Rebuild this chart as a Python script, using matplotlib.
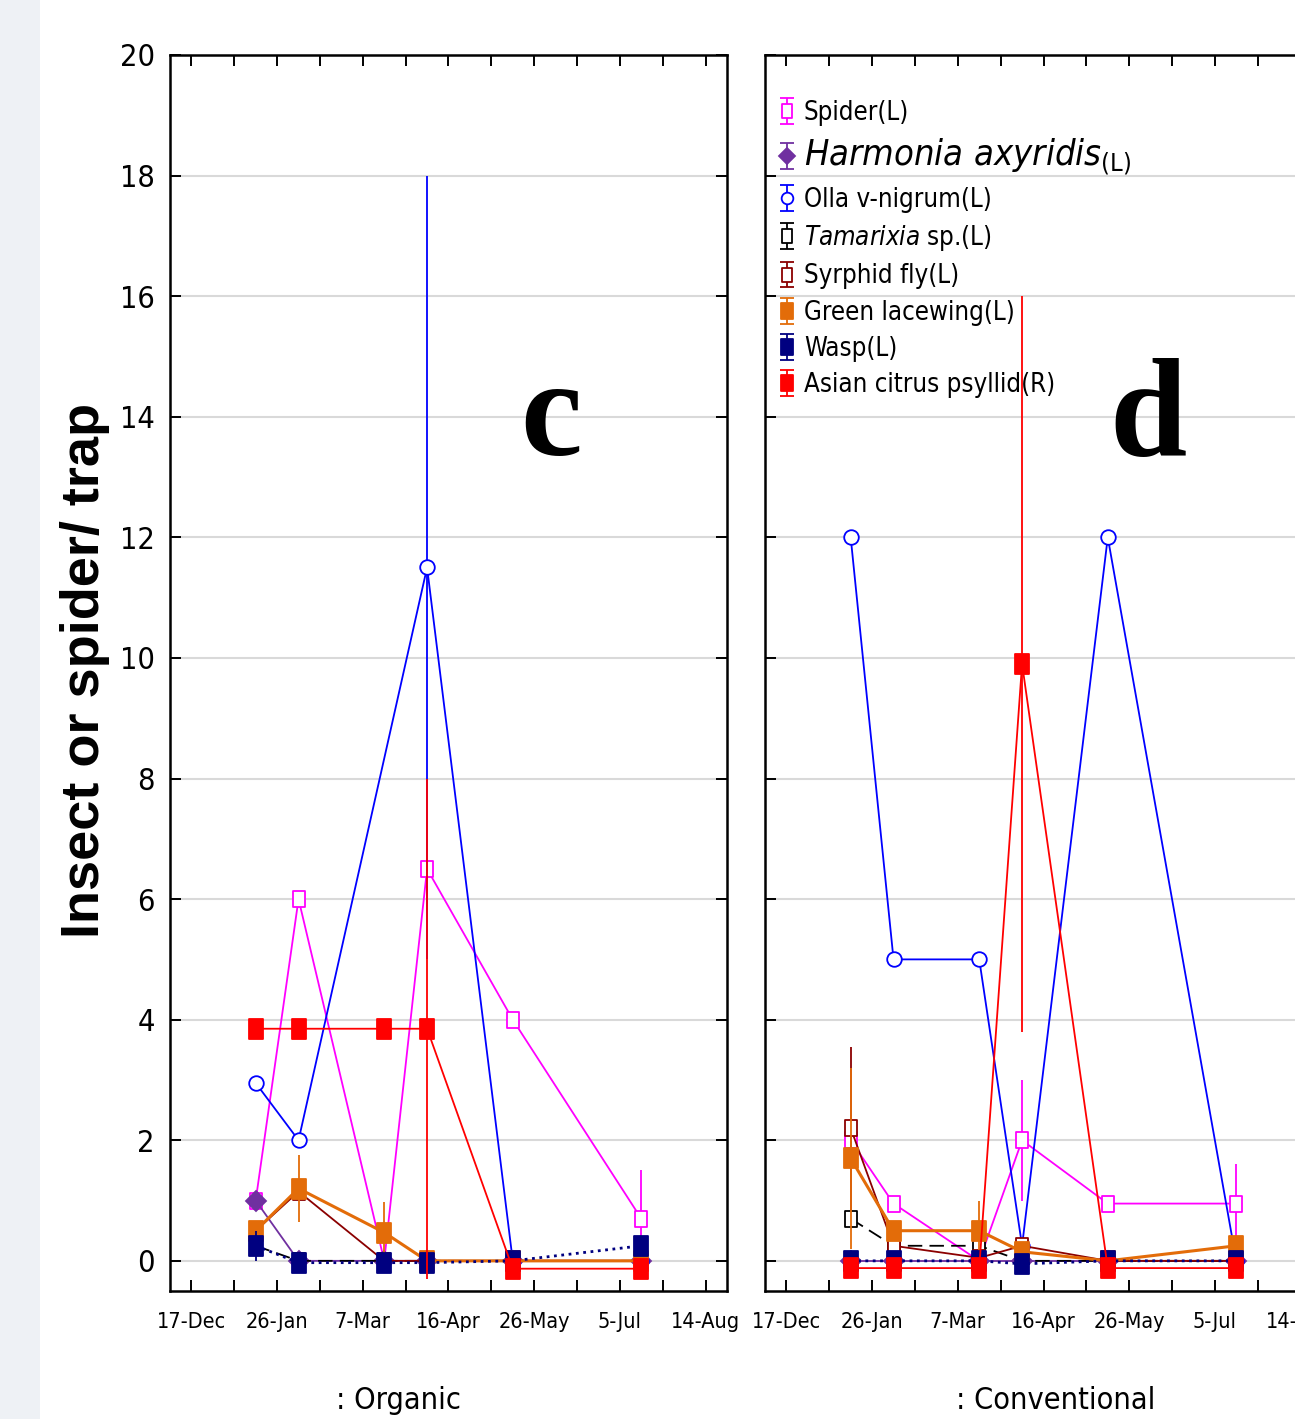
import numpy as np
import matplotlib.pyplot as plt
from matplotlib.path import Path
from matplotlib.patches import Rectangle

plt.rcParams['font.family'] = ['DejaVu Sans']
plt.rcParams['font.stretch'] = 'condensed'
plt.rcParams['mathtext.fontset'] = 'custom'
plt.rcParams['mathtext.rm'] = 'DejaVu Sans:stretch=condensed'
plt.rcParams['mathtext.it'] = 'DejaVu Sans:italic:stretch=condensed'

# sampling dates as days after 17-Dec
days = [30, 50, 90, 110, 150, 210]
tick_days = [0, 40, 80, 120, 160, 200, 240]
tick_labels = ['17-Dec', '26-Jan', '7-Mar', '16-Apr', '26-May', '5-Jul', '14-Aug']

# c: organic
org_spider = [1.0, 6.0, 0.0, 6.5, 4.0, 0.7]
org_spider_err = [0, 0, 0, 0, 0, 0.8]
org_harmonia = [1.0, 0, 0, 0, 0, 0]
org_harmonia_err = [0, 0, 0, 0, 0, 0]
org_olla = [2.95, 2.0, np.nan, 11.5, 0, 0]
org_olla_err = [0, 0, 0, 6.5, 0, 0]
org_tamarixia = [0.25, 0, 0, 0, 0, 0]
org_tamarixia_err = [0, 0, 0, 0, 0, 0]
org_syrphid = [0.5, 1.15, 0, 0, 0, 0]
org_syrphid_err = [0, 0, 0, 0, 0, 0]
org_lacewing = [0.5, 1.2, 0.47, 0, 0, 0]
org_lacewing_err = [0, 0.55, 0.5, 0, 0, 0]
org_wasp = [0.25, -0.03, -0.03, -0.03, 0, 0.25]
org_wasp_err = [0.25, 0, 0, 0, 0, 0]
org_acp = [3.85, 3.85, 3.85, 3.85, -0.13, -0.13]
org_acp_err = [0, 0, 0, 4.15, 0, 0]

# d: conventional
con_spider = [2.0, 0.95, 0, 2.0, 0.95, 0.95]
con_spider_err = [0, 0, 0, 1.0, 0, 0.65]
con_harmonia = [0, 0, 0, 0, 0, 0]
con_harmonia_err = [0, 0, 0, 0, 0, 0]
con_olla = [12.0, 5.0, 5.0, 0.25, 12.0, 0]
con_olla_err = [0, 0, 0, 0, 0, 0]
con_tamarixia = [0.7, 0.25, 0.25, 0, 0, 0]
con_tamarixia_err = [0, 0, 0, 0, 0, 0]
con_syrphid = [2.2, 0.25, 0.05, 0.25, 0, 0]
con_syrphid_err = [1.35, 0, 0, 0, 0, 0]
con_lacewing = [1.7, 0.5, 0.5, 0.15, 0, 0.25]
con_lacewing_err = [1.5, 0, 0.5, 0, 0, 0]
con_wasp = [0, 0, 0, -0.05, 0, 0]
con_wasp_err = [0, 0, 0, 0, 0, 0]
con_acp = [-0.12, -0.12, -0.12, 9.9, -0.12, -0.12]
con_acp_err = [0, 0, 0, 6.1, 0, 0]

names = ['Spider(L)', r'$\mathit{Harmonia\ axyridis}_{\mathrm{(L)}}$', 'Olla v-nigrum(L)',
         r'$\mathit{Tamarixia}$ sp.(L)', 'Syrphid fly(L)', 'Green lacewing(L)',
         'Wasp(L)', 'Asian citrus psyllid(R)']
colors = ['#ff00ff', '#7030a0', '#0000ff', '#000000', '#8b0000', '#e36c09', '#000080', '#ff0000']

# tall rectangle marker (the original is slightly stretched vertically)
rect = Path([(-0.72, -1), (0.72, -1), (0.72, 1), (-0.72, 1), (-0.72, -1)],
            [Path.MOVETO, Path.LINETO, Path.LINETO, Path.LINETO, Path.CLOSEPOLY])
markers = [rect, 'D', 'o', rect, rect, rect, rect, rect]
filled = [False, True, False, False, False, True, True, True]
msizes = [12, 10, 10.5, 12, 12, 15, 15, 15]
lstyles = ['-', '-', '-', (0, (8, 4)), '-', '-', ':', '-']
lwidths = [1.3, 1.3, 1.3, 1.3, 1.3, 2.2, 2.0, 1.3]

organic = [(org_spider, org_spider_err), (org_harmonia, org_harmonia_err),
           (org_olla, org_olla_err), (org_tamarixia, org_tamarixia_err),
           (org_syrphid, org_syrphid_err), (org_lacewing, org_lacewing_err),
           (org_wasp, org_wasp_err), (org_acp, org_acp_err)]
conventional = [(con_spider, con_spider_err), (con_harmonia, con_harmonia_err),
                (con_olla, con_olla_err), (con_tamarixia, con_tamarixia_err),
                (con_syrphid, con_syrphid_err), (con_lacewing, con_lacewing_err),
                (con_wasp, con_wasp_err), (con_acp, con_acp_err)]

W, H = 1295, 1419
fig = plt.figure(figsize=(W / 100, H / 100), dpi=100)
fig.patches.append(Rectangle((0, 0), 40 / W, 1, transform=fig.transFigure,
                             facecolor='#eef1f5', edgecolor='none', zorder=0))

ax_w = 557 / W
ax_b = 1 - 1291 / H
ax_h = (1291 - 55) / H
ax_c = fig.add_axes([170 / W, ax_b, ax_w, ax_h])
ax_d = fig.add_axes([765 / W, ax_b, ax_w, ax_h])


def draw_panel(ax, series):
    x = np.array(days, dtype=float)
    for i, (vals, err) in enumerate(series):
        y = np.array(vals, dtype=float)
        e = np.array(err, dtype=float)
        ok = ~np.isnan(y)
        ax.errorbar(x[ok], y[ok], yerr=e[ok], color=colors[i], ecolor=colors[i],
                    elinewidth=1.3, capsize=0, marker=markers[i], ms=msizes[i],
                    mfc=colors[i] if filled[i] else 'white', mec=colors[i], mew=1.3,
                    ls=lstyles[i], lw=lwidths[i], zorder=3 + i)
    ax.set_xlim(-10, 250)
    ax.set_ylim(-0.5, 20)
    ax.set_yticks(np.arange(0, 21, 2))
    ax.set_xticks(tick_days)
    ax.set_xticklabels(tick_labels, fontsize=15.5)
    ax.set_xticks(np.arange(20, 240, 40), minor=True)
    ax.grid(axis='y', color='#d9d9d9', lw=1.5, zorder=0)
    ax.tick_params(axis='both', which='both', direction='in', length=8, width=1.4,
                   top=True, right=True, colors='black')
    ax.tick_params(axis='x', which='major', pad=15)
    ax.tick_params(axis='y', labelsize=22, pad=11)
    for s in ax.spines.values():
        s.set_linewidth(1.8)


draw_panel(ax_c, organic)
draw_panel(ax_d, conventional)
ax_d.set_yticklabels([])

# legend with capped error bars, like the original
handles = []
for i in range(len(names)):
    h = ax_d.errorbar([np.nan], [np.nan], yerr=[1], color=colors[i], ecolor=colors[i],
                      elinewidth=1.3, capsize=5, capthick=1.3, marker=markers[i],
                      ms=msizes[i] * 0.8, mfc=colors[i] if filled[i] else 'white',
                      mec=colors[i], mew=1.3, ls='none')
    handles.append(h)
leg = ax_d.legend(handles, names, loc='upper left', bbox_to_anchor=(0.005, 0.972),
                  frameon=False, fontsize=18.5, handlelength=0.7, handletextpad=0.3,
                  labelspacing=0.4, borderaxespad=0, numpoints=1)
leg.get_texts()[1].set_fontsize(26)

ax_c.text(0.685, 0.676, 'c', transform=ax_c.transAxes, family='Liberation Serif',
          fontweight='bold', fontsize=100, ha='center', va='baseline')
ax_d.text(0.688, 0.676, 'd', transform=ax_d.transAxes, family='Liberation Serif',
          fontweight='bold', fontsize=100, ha='center', va='baseline')

fig.text(85 / W, 1 - 670 / H, 'Insect or spider/ trap', rotation=90, family='Liberation Sans',
         stretch='normal', fontweight='bold', fontsize=39, ha='center', va='center')
fig.text(398 / W, 1 - 1386 / H, ': Organic', fontsize=22, ha='center', va='top')
fig.text(1056 / W, 1 - 1386 / H, ': Conventional', fontsize=22, ha='center', va='top')

fig.savefig('out.png', dpi=100)
